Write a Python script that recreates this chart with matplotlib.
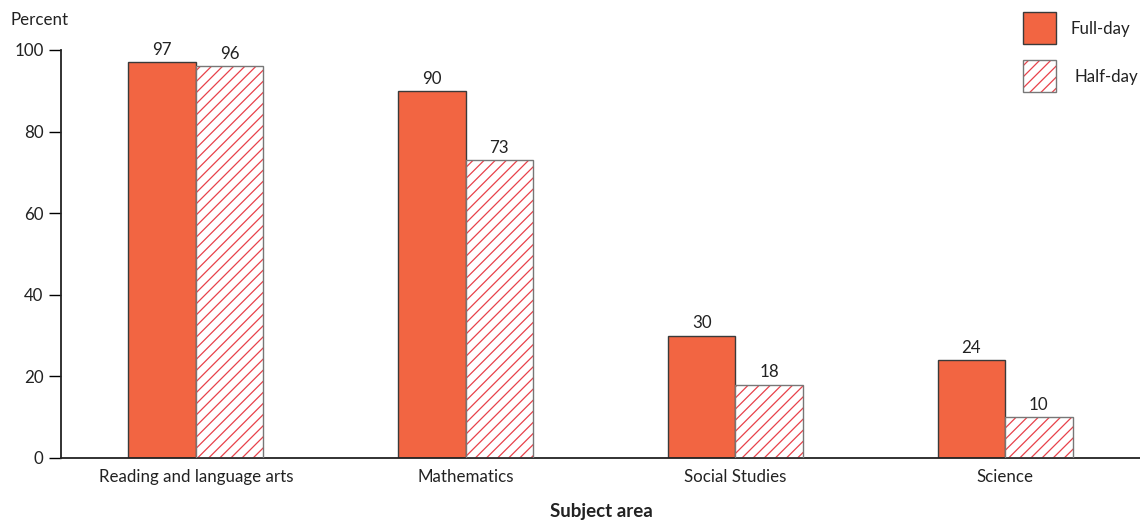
import matplotlib
matplotlib.use("Agg")
import matplotlib.pyplot as plt
from matplotlib.patches import Rectangle
import numpy as np

plt.rcParams['font.family'] = ['Lato', 'DejaVu Sans']
plt.rcParams['hatch.linewidth'] = 0.9

categories = ["Reading and language arts", "Mathematics", "Social Studies", "Science"]
full_day = [97, 90, 30, 24]
half_day = [96, 73, 18, 10]
yticks = [0, 20, 40, 60, 80, 100]
legend_labels = ["Full-day", "Half-day"]

ORANGE = "#F26542"
HATCH_RED = "#E8414A"
EDGE = "#3a3a3a"
TEXT = "#222222"
FS = 12.2

W, H = 1140, 522
fig = plt.figure(figsize=(W / 100, H / 100), dpi=100)
ax = fig.add_axes([61 / W, 1 - 458 / H, 1 - 61 / W, 408 / H])

x = np.arange(len(categories))
w = 0.25

full = ax.bar(x - w / 2, full_day, w, color=ORANGE, edgecolor=EDGE, linewidth=1.0, zorder=2)
# hatched bars: red hatch lines first, then a gray outline on top
half = ax.bar(x + w / 2, half_day, w, facecolor="white", edgecolor=HATCH_RED,
              hatch="///", linewidth=0, zorder=2)
ax.bar(x + w / 2, half_day, w, facecolor="none", edgecolor="#777777", linewidth=1.0, zorder=3)

ax.bar_label(full, labels=[str(v) for v in full_day], padding=3, fontsize=FS, color=TEXT)
ax.bar_label(half, labels=[str(v) for v in half_day], padding=3, fontsize=FS, color=TEXT)

ax.set_xlim(-0.5, 3.5)
ax.set_ylim(0, 100)
ax.set_yticks(yticks)
ax.set_xticks(x)
ax.set_xticklabels(categories, fontsize=FS, color=TEXT)
ax.tick_params(axis="x", length=0, pad=8)
ax.tick_params(axis="y", length=8.5, width=1.0, direction="out", labelsize=FS,
               labelcolor=TEXT, pad=4)

for side in ("top", "right"):
    ax.spines[side].set_visible(False)
for side in ("left", "bottom"):
    ax.spines[side].set_linewidth(1.3)
    ax.spines[side].set_color(TEXT)

fig.text(10 / W, 1 - 20 / H, "Percent", fontsize=FS, color=TEXT, va="center", ha="left")
fig.text(ax.get_position().x0 + (196 - 61) / W + 1.5 * 270 / W, 1 - 512 / H, "Subject area",
         fontsize=13.5, fontweight="bold", color=TEXT, ha="center", va="center")

# legend swatches and labels
sw, sh = 33 / W, 32 / H
fig.add_artist(Rectangle((1023 / W, 1 - 44 / H), sw, sh, transform=fig.transFigure,
                         facecolor=ORANGE, edgecolor=EDGE, linewidth=1.0))
fig.add_artist(Rectangle((1023 / W, 1 - 92 / H), sw, sh, transform=fig.transFigure,
                         facecolor="white", edgecolor=HATCH_RED, hatch="///", linewidth=0))
fig.add_artist(Rectangle((1023 / W, 1 - 92 / H), sw, sh, transform=fig.transFigure,
                         facecolor="none", edgecolor="#777777", linewidth=1.0))
fig.text(1071 / W, 1 - 29 / H, legend_labels[0], fontsize=FS, color=TEXT, va="center", ha="left")
fig.text(1075 / W, 1 - 77 / H, legend_labels[1], fontsize=FS, color=TEXT, va="center", ha="left")

fig.savefig("out.png", dpi=100)
